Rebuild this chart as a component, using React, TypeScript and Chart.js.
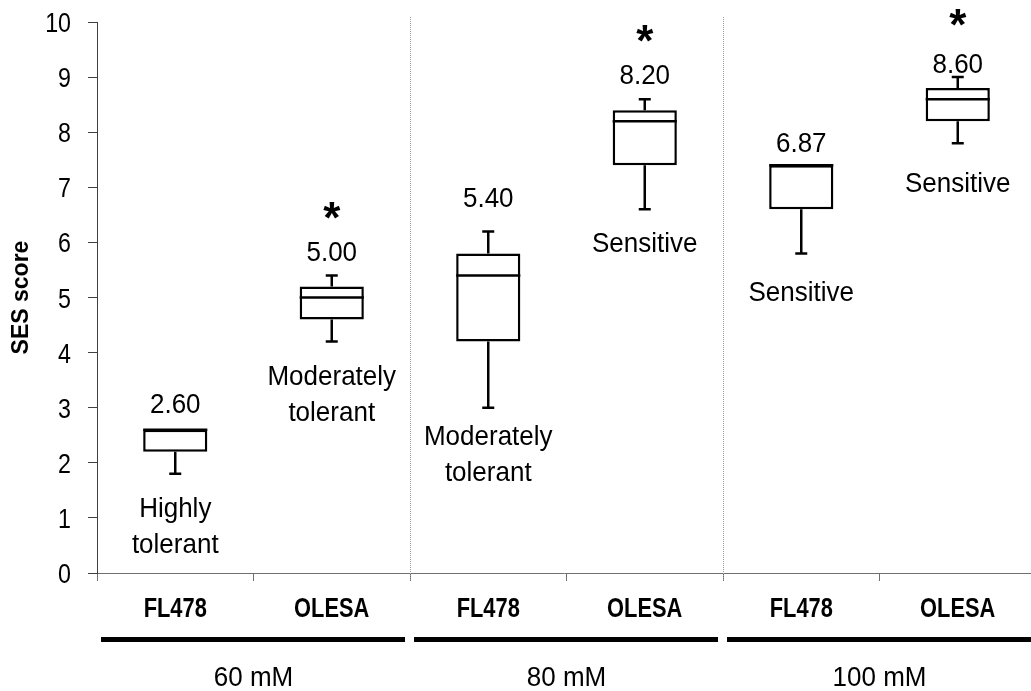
import { useEffect, useRef } from "react";
import { Chart, registerables } from "chart.js";

Chart.register(...registerables);

// ---------- data ----------
const groups = ["60 mM", "80 mM", "100 mM"];
const categories = ["FL478", "OLESA", "FL478", "OLESA", "FL478", "OLESA"];
const whiskerLow = [1.8, 4.2, 3.0, 6.6, 5.8, 7.8];
const quartile1 = [2.2, 4.6, 4.2, 7.4, 6.6, 8.2];
const medians = [2.6, 5.0, 5.4, 8.2, 7.4, 8.6];
const quartile3 = [2.6, 5.2, 5.8, 8.4, 7.4, 8.8];
const whiskerHigh = [2.6, 5.4, 6.2, 8.6, 7.4, 9.0];
const meanLabels = ["2.60", "5.00", "5.40", "8.20", "6.87", "8.60"];
const toleranceLabels = [
  ["Highly", "tolerant"],
  ["Moderately", "tolerant"],
  ["Moderately", "tolerant"],
  ["Sensitive"],
  ["Sensitive"],
  ["Sensitive"],
];
const significant = [false, true, false, true, false, true];
const yTickValues = [0, 1, 2, 3, 4, 5, 6, 7, 8, 9, 10];
const yTitle = "SES score";

// ---------- layout (pixel nudges for annotation text) ----------
const meanGapPx = [17, 14, 24, 15, 13, 4];
const starGapPx = [50, 50, 50, 50, 50, 55];
const descGapPx = [23, 23, 17, 23, 28, 29];

const FONT = "'Liberation Sans', Arial, sans-serif";

function drawText(
  ctx: CanvasRenderingContext2D,
  text: string,
  x: number,
  y: number,
  font: string,
  sx = 1,
  sy = 1,
  align: CanvasTextAlign = "center"
) {
  ctx.save();
  ctx.translate(x, y);
  ctx.scale(sx, sy);
  ctx.font = font;
  ctx.textAlign = align;
  ctx.textBaseline = "alphabetic";
  ctx.fillStyle = "#000";
  ctx.fillText(text, 0, 0);
  ctx.restore();
}

const annotate = {
  id: "annotate",
  beforeDatasetsDraw(chart: any) {
    const { ctx, scales } = chart;
    const xs = scales.x;
    const area = chart.chartArea;
    ctx.save();
    ctx.strokeStyle = "#9a9a9a";
    ctx.lineWidth = 1;
    ctx.setLineDash([1, 1]);
    for (let g = 1; g < groups.length; g++) {
      const x = Math.round(xs.getPixelForValue(g * 2 - 0.5)) + 0.5;
      ctx.beginPath();
      ctx.moveTo(x, area.top - 5);
      ctx.lineTo(x, area.bottom + 7);
      ctx.stroke();
    }
    ctx.restore();
  },
  afterDatasetsDraw(chart: any) {
    const { ctx, scales } = chart;
    const xs = scales.x;
    const ys = scales.y;
    const area = chart.chartArea;
    const meta = chart.getDatasetMeta(0);
    ctx.save();

    // y tick labels
    yTickValues.forEach((v) => {
      drawText(ctx, String(v), area.left - 26, ys.getPixelForValue(v) + 10, `27px ${FONT}`, 0.86, 1.04, "right");
    });

    ctx.strokeStyle = "#000";
    ctx.lineWidth = 2.5;
    ctx.lineCap = "butt";
    categories.forEach((_, i) => {
      const x = xs.getPixelForValue(i);
      const w = meta.data[i].width;
      const capW = 12;
      const yHi = ys.getPixelForValue(whiskerHigh[i]);
      const yQ3 = ys.getPixelForValue(quartile3[i]);
      const yQ1 = ys.getPixelForValue(quartile1[i]);
      const yLo = ys.getPixelForValue(whiskerLow[i]);
      const yMed = ys.getPixelForValue(medians[i]);
      ctx.beginPath();
      ctx.moveTo(x, yQ3);
      ctx.lineTo(x, yHi);
      ctx.moveTo(x - capW / 2, yHi);
      ctx.lineTo(x + capW / 2, yHi);
      ctx.moveTo(x, yQ1);
      ctx.lineTo(x, yLo);
      ctx.moveTo(x - capW / 2, yLo);
      ctx.lineTo(x + capW / 2, yLo);
      ctx.moveTo(x - w / 2, yMed);
      ctx.lineTo(x + w / 2, yMed);
      ctx.stroke();

      const meanBase = yHi - meanGapPx[i];
      drawText(ctx, meanLabels[i], x, meanBase, `26px ${FONT}`, 1.0, 1.08);
      if (significant[i]) {
        drawText(ctx, "*", x, meanBase - starGapPx[i] + 22, `bold 44px ${FONT}`);
      }
      const top = yLo + descGapPx[i];
      toleranceLabels[i].forEach((line, k) => {
        drawText(ctx, line, x, top + 20 + k * 36, `26px ${FONT}`, 1.0, 1.08);
      });
    });

    // category labels below axis
    const base = area.bottom;
    categories.forEach((c, i) => {
      drawText(ctx, c, xs.getPixelForValue(i), base + 44, `bold 23px ${FONT}`, 0.95, 1.2);
    });
    // group bars and labels
    groups.forEach((g, k) => {
      const x0 = xs.getPixelForValue(k * 2 - 0.5);
      const x1 = xs.getPixelForValue(k * 2 + 1.5);
      ctx.fillStyle = "#000";
      ctx.fillRect(x0 + 4, base + 64, x1 - x0 - 9, 5);
      drawText(ctx, g, (x0 + x1) / 2, base + 113, `26px ${FONT}`, 1.0, 1.08);
    });
    ctx.restore();
  },
};

export default function App() {
  const ref = useRef<HTMLCanvasElement>(null);
  useEffect(() => {
    document.body.style.margin = "0";
    const boundaries = categories.map((_, i) => i - 0.5);
    const chart = new Chart(ref.current as HTMLCanvasElement, {
      type: "bar",
      data: {
        datasets: [
          {
            data: categories.map((_, i) => ({ x: i, y: [quartile1[i], quartile3[i]] })) as any,
            backgroundColor: "#fff",
            borderColor: "#000",
            borderWidth: 2.5,
            borderSkipped: false,
            barPercentage: 0.41,
            categoryPercentage: 1,
          },
        ],
      },
      options: {
        animation: false,
        responsive: false,
        events: [],
        layout: { padding: { top: 22, right: 0, bottom: 0, left: 0 } },
        plugins: { legend: { display: false }, tooltip: { enabled: false } },
        scales: {
          x: {
            type: "linear",
            offset: false,
            min: -0.5,
            max: 5.468,
            afterBuildTicks: (s: any) => {
              s.ticks = boundaries.map((v) => ({ value: v }));
            },
            afterFit: (s: any) => {
              s.height = 118;
              s.paddingLeft = 0;
              s.paddingRight = 0;
            },
            ticks: { display: false },
            grid: { offset: false, drawOnChartArea: false, drawTicks: true, tickLength: 8, color: "#707070", lineWidth: 1 },
            border: { display: true, color: "#707070", width: 1 },
          },
          y: {
            min: 0,
            max: 10,
            afterBuildTicks: (s: any) => {
              s.ticks = yTickValues.map((v) => ({ value: v }));
            },
            afterFit: (s: any) => {
              s.width = 97;
              s.paddingTop = 0;
              s.paddingBottom = 0;
            },
            ticks: { display: false },
            grid: { drawOnChartArea: false, drawTicks: true, tickLength: 9, color: "#404040", lineWidth: 1 },
            border: { display: true, color: "#404040", width: 1 },
            title: {
              display: true,
              text: yTitle,
              color: "#000",
              font: { family: FONT, size: 23, weight: "bold" },
              padding: { top: 8, bottom: 0 },
            },
          },
        },
      },
      plugins: [annotate],
    });
    return () => chart.destroy();
  }, []);
  return <canvas ref={ref} width={1031} height={691} style={{ display: "block" }} />;
}
